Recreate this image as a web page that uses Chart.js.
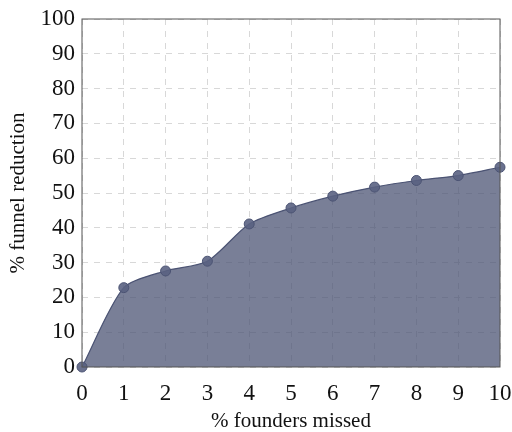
<!DOCTYPE html>
<html>
<head>
<meta charset="utf-8">
<script src="https://cdn.jsdelivr.net/npm/chart.js@4"></script>
<style>
  html, body { margin: 0; padding: 0; background: #fff; }
  #wrap { width: 512px; height: 432px; }
</style>
</head>
<body>
<div id="wrap"><canvas id="chart" width="512" height="432"></canvas></div>
<script>
const foundersMissed = [0, 1, 2, 3, 4, 5, 6, 7, 8, 9, 10];
const funnelReduction = [0, 22.8, 27.6, 30.4, 41.1, 45.7, 49.1, 51.7, 53.6, 55.0, 57.4];

const xTitle = '% founders missed';
const yTitle = '% funnel reduction';

// pgfplots-style frame round the whole plot area
const boxPlugin = {
    id: 'box',
    afterDraw(chart) {
        const a = chart.chartArea;
        const ctx = chart.ctx;
        ctx.save();
        ctx.strokeStyle = '#555';
        ctx.lineWidth = 1;
        ctx.strokeRect(a.left, a.top, a.right - a.left, a.bottom - a.top);
        ctx.restore();
    }
};

const serif = 'Liberation Serif';

new Chart(document.getElementById('chart').getContext('2d'), {
    type: 'line',
    data: {
        datasets: [{
            data: foundersMissed.map((x, i) => ({ x: x, y: funnelReduction[i] })),
            borderColor: '#4b5373',
            borderWidth: 1.2,
            backgroundColor: 'rgba(74, 82, 115, 0.74)',
            fill: 'origin',
            tension: 0.25,
            pointRadius: 5,
            pointBackgroundColor: 'rgba(90, 98, 130, 0.9)',
            pointBorderColor: '#4b5373',
            pointBorderWidth: 1,
            clip: false
        }]
    },
    options: {
        responsive: false,
        animation: false,
        layout: { padding: { top: 19, right: 12, left: 2, bottom: 0 } },
        plugins: { legend: { display: false }, tooltip: { enabled: false } },
        scales: {
            x: {
                type: 'linear',
                min: 0,
                max: 10,
                afterFit(scale) {
                    scale.height = 65;
                    scale.paddingLeft = 0;
                    scale.paddingRight = 0;
                },
                ticks: { stepSize: 1, color: '#111', font: { family: serif, size: 23 }, padding: 13 },
                grid: { color: '#d8d8d8', drawTicks: false },
                border: { display: false, dash: [6, 6] },
                title: { display: true, text: xTitle, color: '#111', font: { family: serif, size: 21, lineHeight: 1 }, padding: 0 }
            },
            y: {
                min: 0,
                max: 100,
                afterFit(scale) {
                    scale.width = 80;
                    scale.paddingTop = 0;
                    scale.paddingBottom = 0;
                },
                ticks: { stepSize: 10, color: '#111', font: { family: serif, size: 23 }, padding: 7 },
                grid: { color: '#d8d8d8', drawTicks: false },
                border: { display: false, dash: [6, 6] },
                title: { display: true, text: yTitle, color: '#111', font: { family: serif, size: 21 }, padding: { bottom: 4 } }
            }
        }
    },
    plugins: [boxPlugin]
});
</script>
</body>
</html>
